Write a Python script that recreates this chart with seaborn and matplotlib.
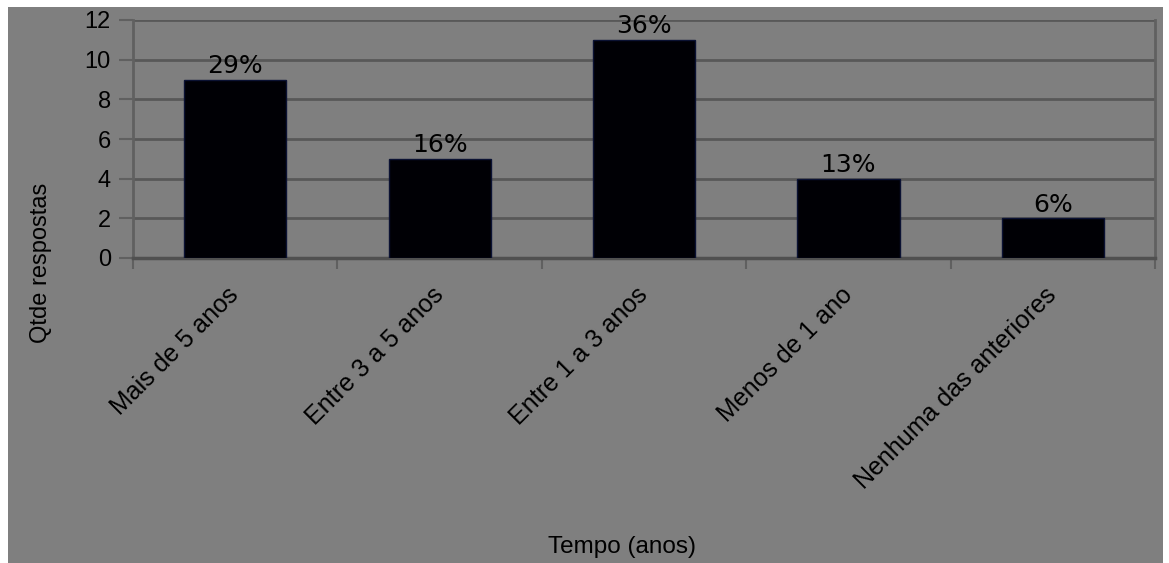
import matplotlib
matplotlib.use("Agg")
import matplotlib.pyplot as plt
import seaborn as sns
import pandas as pd
from matplotlib.patches import Rectangle
from matplotlib.ticker import FixedLocator

categories = ["Mais de 5 anos", "Entre 3 a 5 anos", "Entre 1 a 3 anos",
              "Menos de 1 ano", "Nenhuma das anteriores"]
counts = [9, 5, 11, 4, 2]
percents = [29, 16, 36, 13, 6]
y_ticks = [0, 2, 4, 6, 8, 10, 12]

df = pd.DataFrame({"tempo": categories, "qtde": counts})

sns.set_theme(style="white")
plt.rcParams["font.family"] = ["Liberation Sans", "DejaVu Sans"]

BG = "#7f7f7f"
GRID = "#585858"

W, H = 1169, 563
fig = plt.figure(figsize=(W / 100, H / 100), dpi=100, facecolor="white")
# grey panel leaving a thin white margin at top, left and right
fig.patches.append(Rectangle((8 / W, 0), (W - 14) / W, (H - 7) / H,
                             transform=fig.transFigure, facecolor=BG,
                             edgecolor="none", zorder=-10))

ax = fig.add_axes([133 / W, (H - 258) / H, (1155 - 133) / W, (258 - 20) / H])
ax.set_facecolor(BG)

sns.barplot(data=df, x="tempo", y="qtde", ax=ax, width=0.5,
            color="#000005", edgecolor="#0b1233", linewidth=1.0,
            saturation=1, zorder=3)

ax.set_xlim(-0.5, len(categories) - 0.5)
ax.set_ylim(0, 12)
ax.set_yticks(y_ticks)
ax.yaxis.grid(True, color=GRID, linewidth=2)
ax.set_axisbelow(True)

ax.spines["top"].set_visible(False)
for sp in ["left", "right"]:
    ax.spines[sp].set_color("#606060")
    ax.spines[sp].set_linewidth(2)
ax.spines["bottom"].set_color("#505050")
ax.spines["bottom"].set_linewidth(2.5)

ax.tick_params(axis="y", left=True, length=10, width=1.5, color="#606060",
               pad=6, labelsize=17, labelcolor="black")
ax.tick_params(axis="x", which="major", bottom=False, length=0, pad=24,
               labelsize=18, labelcolor="black")
ax.xaxis.set_minor_locator(FixedLocator([i - 0.5 for i in range(len(categories) + 1)]))
ax.tick_params(axis="x", which="minor", bottom=True, length=8, width=1.5,
               color="#606060")

for lab in ax.get_xticklabels():
    lab.set_rotation(45)
    lab.set_ha("right")
    lab.set_va("center")
    lab.set_rotation_mode("anchor")

ax.set_xlabel("")
ax.set_ylabel("")

for i, (v, p) in enumerate(zip(counts, percents)):
    ax.annotate(f"{p}%", (i, v), xytext=(0, 1),
                textcoords="offset points", ha="center", va="bottom",
                fontsize=18, family="DejaVu Sans", color="black", zorder=4)

fig.text(622 / W, 1 - 547 / H, "Tempo (anos)", ha="center", va="center",
         fontsize=17.5, color="black")
fig.text(41 / W, 1 - 263 / H, "Qtde respostas", ha="center", va="center",
         rotation=90, fontsize=17, color="black")

fig.savefig("out.png", dpi=100, facecolor=fig.get_facecolor())
